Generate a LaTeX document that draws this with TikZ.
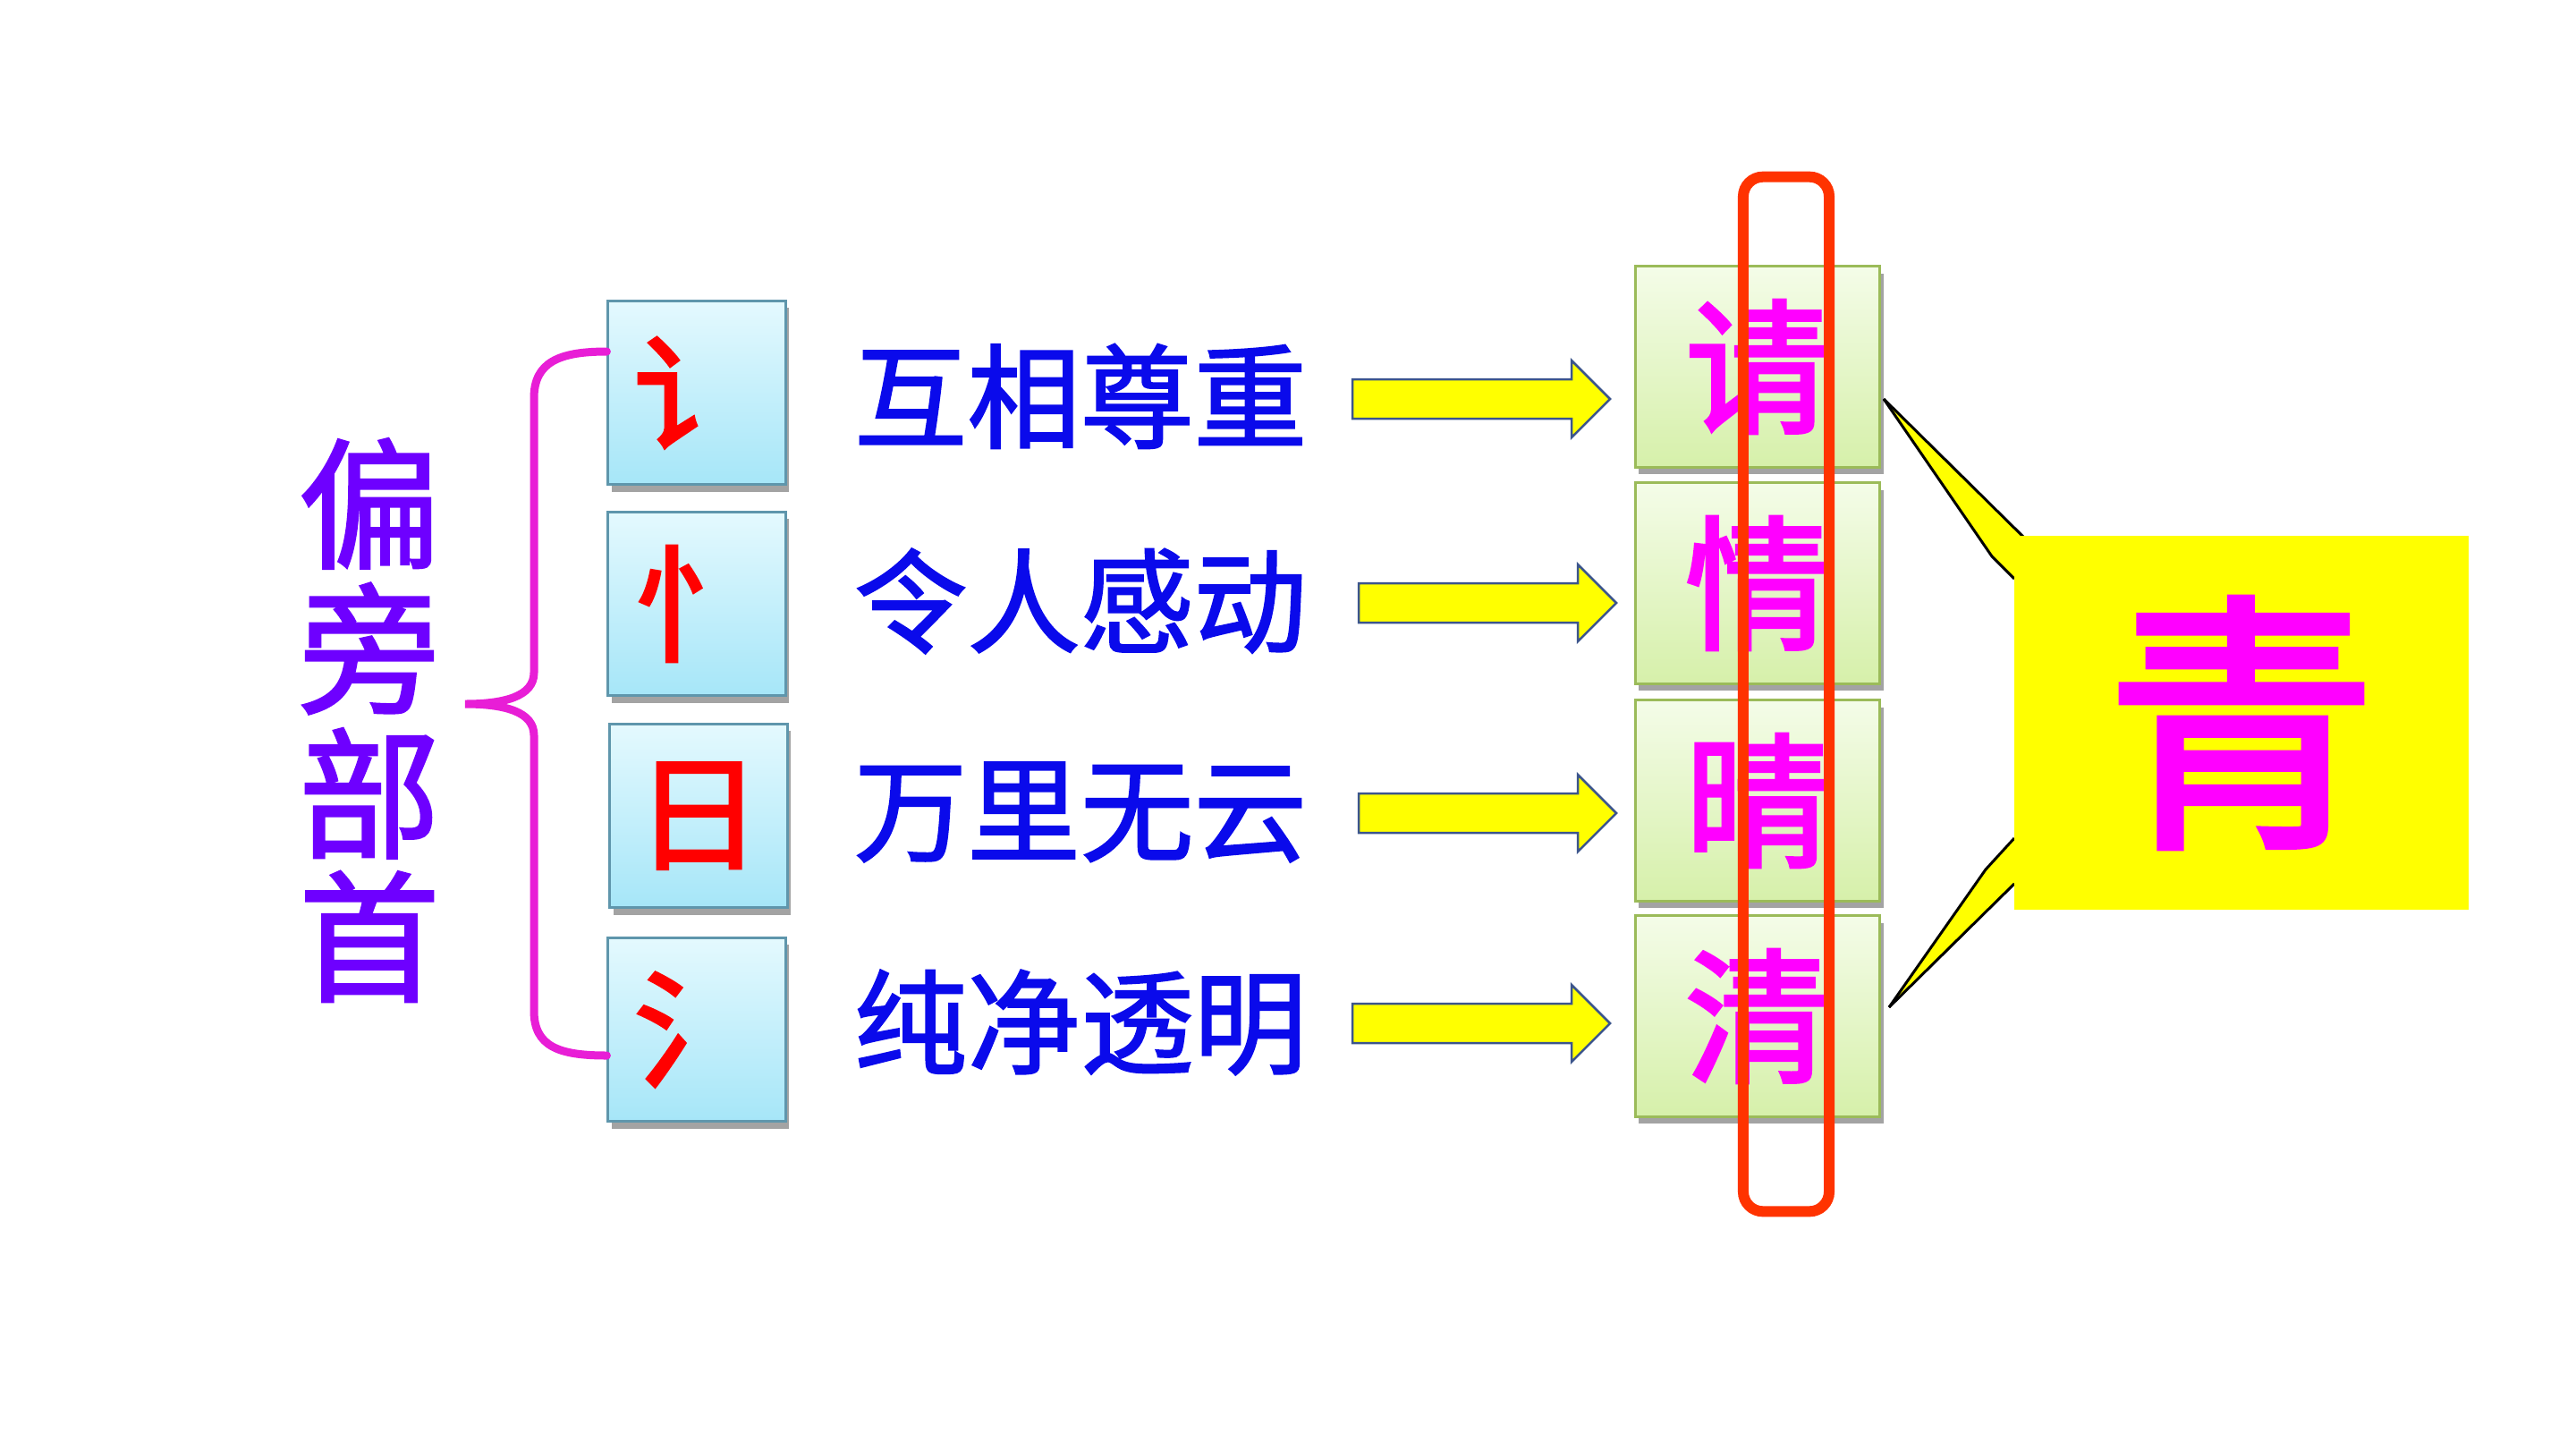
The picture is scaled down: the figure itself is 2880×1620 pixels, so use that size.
\documentclass[tikz,border=0pt]{standalone}
\usepackage{fontspec}
\newfontfamily\cjk{Noto Sans CJK SC}
\newfontfamily\cjkmid[FakeBold=1.6]{Noto Sans CJK SC}
\newfontfamily\cjkheavy[FakeBold=2.6]{Noto Sans CJK SC}
\usetikzlibrary{shadows}
\definecolor{labelviolet}{RGB}{110,0,255}
\definecolor{bracemag}{RGB}{232,30,214}
\definecolor{boxedge}{RGB}{95,150,172}
\definecolor{cyantop}{RGB}{228,249,254}
\definecolor{cyanbot}{RGB}{166,230,248}
\definecolor{greentop}{RGB}{244,252,232}
\definecolor{greenbot}{RGB}{214,240,170}
\definecolor{greenedge}{RGB}{155,187,89}
\definecolor{rowblue}{RGB}{10,10,235}
\definecolor{arrowedge}{RGB}{60,85,140}
\definecolor{charpink}{RGB}{255,0,255}
\definecolor{radred}{RGB}{255,0,0}
\definecolor{framered}{RGB}{255,51,0}
\definecolor{callyellow}{RGB}{255,255,0}
\newcommand\setfs[1]{\fontsize{#1}{#1}\selectfont}
\begin{document}
\begin{tikzpicture}[x=0.01cm,y=-0.01cm,
  labelchar/.style={text=labelviolet,font=\cjkmid\setfs{45pt},inner sep=0pt},
  radbox/.style={draw=boxedge,line width=0.03cm,minimum width=1.98cm,minimum height=2.05cm,
    top color=cyantop,bottom color=cyanbot,inner sep=0pt,
    text=radred,font=\cjkheavy\setfs{40pt},
    drop shadow={shadow xshift=0.04cm,shadow yshift=-0.08cm,opacity=0.55,fill=black!65}},
  rowtext/.style={text=rowblue,font=\cjkmid\setfs{36pt},inner sep=0pt},
  yarrow/.style={fill=callyellow,draw=arrowedge,line width=0.025cm,line join=miter},
  charbox/.style={draw=greenedge,line width=0.03cm,minimum width=2.73cm,minimum height=2.24cm,
    top color=greentop,bottom color=greenbot,inner sep=0pt,
    text=charpink,font=\cjkheavy\setfs{46pt},
    drop shadow={shadow xshift=0.04cm,shadow yshift=-0.08cm,opacity=0.55,fill=black!65}},
  bracestyle/.style={draw=bracemag,line width=0.09cm,line cap=round},
  framestyle/.style={draw=framered,line width=0.12cm,rounded corners=0.22cm},
  spike/.style={fill=callyellow},
  spikeline/.style={draw=black,line width=0.03cm,line join=round},
  callbox/.style={fill=callyellow,minimum width=5.08cm,minimum height=4.17cm,inner sep=0pt,
    text=charpink,font=\cjkheavy\setfs{86pt}}
]
\useasboundingbox (0,0) rectangle (2880,1620);
\fill[white] (0,0) rectangle (2880,1620);

% left label
\node[labelchar] (lab1) at (413,563) {偏};
\node[labelchar] (lab2) at (413,725) {旁};
\node[labelchar] (lab3) at (413,887) {部};
\node[labelchar] (lab4) at (413,1047) {首};

% radical boxes
\node[radbox] (r1) at (779,439) {讠};
\node[radbox] (r2) at (779,675) {忄};
\node[radbox] (r3) at (781,912) {日};
\node[radbox] (r4) at (779,1151) {氵};

% brace
\coordinate (btop) at (r1.west |- 0,393);
\coordinate (bbot) at (r4.west |- 0,1180);
\coordinate (btip) at (520,787);
\draw[bracestyle] (btop) .. controls (625,393) and (597,405) .. (597,445)
  -- (597,752) .. controls (597,778) and (565,787) .. (btip)
  .. controls (565,787) and (597,796) .. (597,822)
  -- (597,1130) .. controls (597,1170) and (625,1180) .. (bbot);

% row texts
\node[rowtext] (t1) at (1208,443) {互相尊重};
\node[rowtext] (t2) at (1208,672) {令人感动};
\node[rowtext] (t3) at (1208,908) {万里无云};
\node[rowtext] (t4) at (1208,1143) {纯净透明};

% green character boxes
\node[charbox] (c1) at (1965,410) {请};
\node[charbox] (c2) at (1965,652) {情};
\node[charbox] (c3) at (1965,895) {晴};
\node[charbox] (c4) at (1965,1136) {清};

% block arrows
\foreach \n/\x/\y in {1/1512/446, 2/1519/674, 3/1519/909, 4/1512/1144}{
  \coordinate (a\n) at (\x,\y);
  \draw[yarrow] (a\n) ++(0,-22) -- ++(245,0) -- ++(0,-21) -- ++(43,43) -- ++(-43,43)
    -- ++(0,-21) -- ++(-245,0) -- cycle;
}

% callout
\coordinate (tipA) at (2106,446);
\coordinate (tipB) at (2112,1126);
\fill[spike] (tipA) -- (2262,600) -- (2270,600) -- (2270,660) -- (2252,647) -- (2227,622) -- cycle;
\fill[spike] (tipB) -- (2220,972) -- (2252,937) -- (2270,937) -- (2270,995) -- (2252,988) -- cycle;
\draw[spikeline] (tipA) -- (2262,600);
\draw[spikeline] (tipA) -- (2227,622) -- (2252,647);
\draw[spikeline] (tipB) -- (2252,988);
\draw[spikeline] (tipB) -- (2220,972) -- (2252,937);
\node[callbox] (qing) at (2506,808) {青};

% red frame
\node[framestyle,minimum width=0.96cm,minimum height=11.56cm,inner sep=0pt] (frame) at (1997,776) {};
\end{tikzpicture}
\end{document}
